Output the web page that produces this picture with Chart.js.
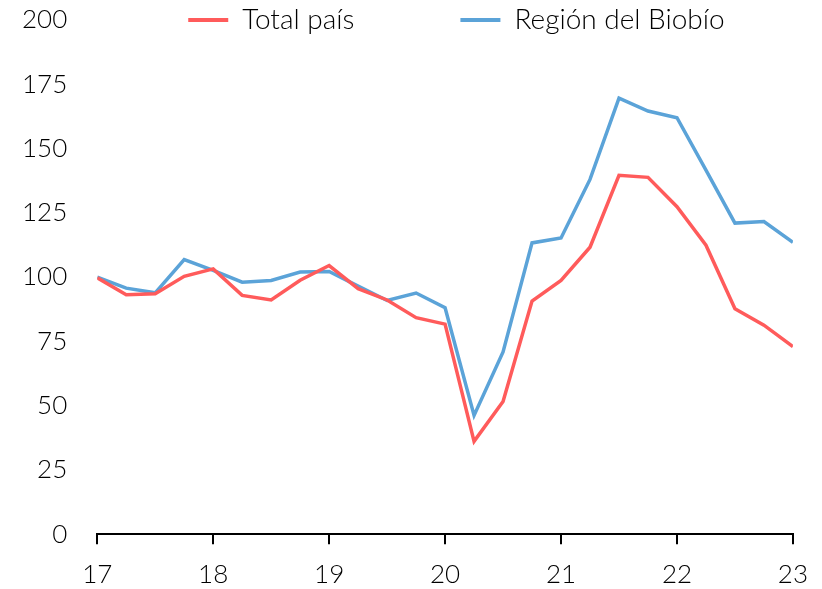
<!DOCTYPE html>
<html>
<head>
<meta charset="utf-8">
<script src="https://cdn.jsdelivr.net/npm/chart.js@4/dist/chart.umd.min.js"></script>
<style>
  html, body { margin: 0; padding: 0; background: #fff; }
  #wrap { width: 822px; height: 589px; position: relative; }
</style>
</head>
<body>
<div id="wrap"><canvas id="chart"></canvas></div>
<script>
// Trimestres (años abreviados, 17 = 2017)
const quarters = [17, 17.25, 17.5, 17.75, 18, 18.25, 18.5, 18.75, 19, 19.25, 19.5, 19.75,
                  20, 20.25, 20.5, 20.75, 21, 21.25, 21.5, 21.75, 22, 22.25, 22.5, 22.75, 23];

const totalPais = [99.7, 93.1, 93.5, 100.3, 103.2, 92.9, 91.1, 98.8, 104.5, 95.5, 91.1, 84.2,
                   81.7, 36.1, 51.6, 90.7, 98.7, 111.6, 139.6, 138.8, 127.4, 112.4, 87.7, 81.3, 73.0];

const regionBiobio = [100, 95.7, 93.9, 106.8, 102.6, 98.0, 98.7, 102.0, 102.2, 96.5, 90.9, 93.8,
                      88.1, 46.2, 70.9, 113.3, 115.2, 138.0, 169.6, 164.6, 162.0, 141.6, 121.0, 121.6, 113.5];

const yearTicks = [17, 18, 19, 20, 21, 22, 23];

const RED = '#ff5b5b';
const BLUE = '#5ba3d8';
const FONT = { family: 'Lato', size: 26, weight: '300', lineHeight: 1 };
const LEGEND_FONT = { family: 'Lato', size: 28, weight: '300', lineHeight: 1 };
const LEGEND_GAP = 106;
const LEGEND_INDENT = 91; // desde el borde izquierdo del área del gráfico

const toPoints = vals => vals.map((v, i) => ({ x: quarters[i], y: v }));

// la leyenda no ocupa espacio propio: se dibuja a la altura del tope del eje (200)
const legendOverlay = {
    id: 'legendOverlay',
    afterInit(chart) {
        const lg = chart.legend;
        const fit = lg.fit;
        lg.fit = function () { fit.call(this); this.height = 0; };
    },
    afterLayout(chart) {
        const lg = chart.legend;
        const area = chart.chartArea;
        lg.top = area.top - LEGEND_GAP - LEGEND_FONT.size / 2;
        lg.bottom = area.top + LEGEND_FONT.size;
        lg.height = lg.bottom - lg.top;
        lg.left = area.left + LEGEND_INDENT - LEGEND_GAP;
        lg.right = chart.width + LEGEND_GAP;
        lg.width = lg.right - lg.left;
    }
};

new Chart(document.getElementById('chart'), {
    type: 'line',
    data: {
        datasets: [
            {
                label: 'Total país',
                data: toPoints(totalPais),
                borderColor: RED,
                backgroundColor: RED,
                borderWidth: 3.5,
                pointRadius: 0,
                tension: 0
            },
            {
                label: 'Región del Biobío',
                data: toPoints(regionBiobio),
                borderColor: BLUE,
                backgroundColor: BLUE,
                borderWidth: 3.5,
                pointRadius: 0,
                tension: 0
            }
        ]
    },
    options: {
        responsive: true,
        maintainAspectRatio: false,
        animation: false,
        layout: { padding: { left: 22, right: 28, top: 20, bottom: -17 } },
        scales: {
            x: {
                type: 'linear',
                min: 17,
                max: 23,
                afterBuildTicks: axis => { axis.ticks = yearTicks.map(v => ({ value: v })); },
                border: { display: true, color: '#000', width: 2 },
                grid: { display: true, drawOnChartArea: false, drawTicks: true, tickLength: 10, color: '#000', lineWidth: 2 },
                ticks: { color: '#000', font: { ...FONT, lineHeight: 1.3 }, padding: 14, maxRotation: 0, autoSkip: false }
            },
            y: {
                min: 0,
                max: 200,
                border: { display: false },
                // sin marcas visibles; tickLength deja el hueco entre números y eje
                grid: { display: false, drawTicks: true, tickLength: 30 },
                ticks: { stepSize: 25, color: '#000', font: FONT, padding: 0 }
            }
        },
        plugins: {
            legend: {
                position: 'top',
                align: 'start',
                labels: {
                    color: '#000',
                    font: LEGEND_FONT,
                    boxWidth: 40,
                    boxHeight: 4,
                    padding: LEGEND_GAP,
                    generateLabels: chart => Chart.defaults.plugins.legend.labels.generateLabels(chart)
                        .map(item => ({ ...item, lineWidth: 0 }))
                }
            },
            tooltip: { enabled: false }
        }
    },
    plugins: [legendOverlay]
});
</script>
</body>
</html>
